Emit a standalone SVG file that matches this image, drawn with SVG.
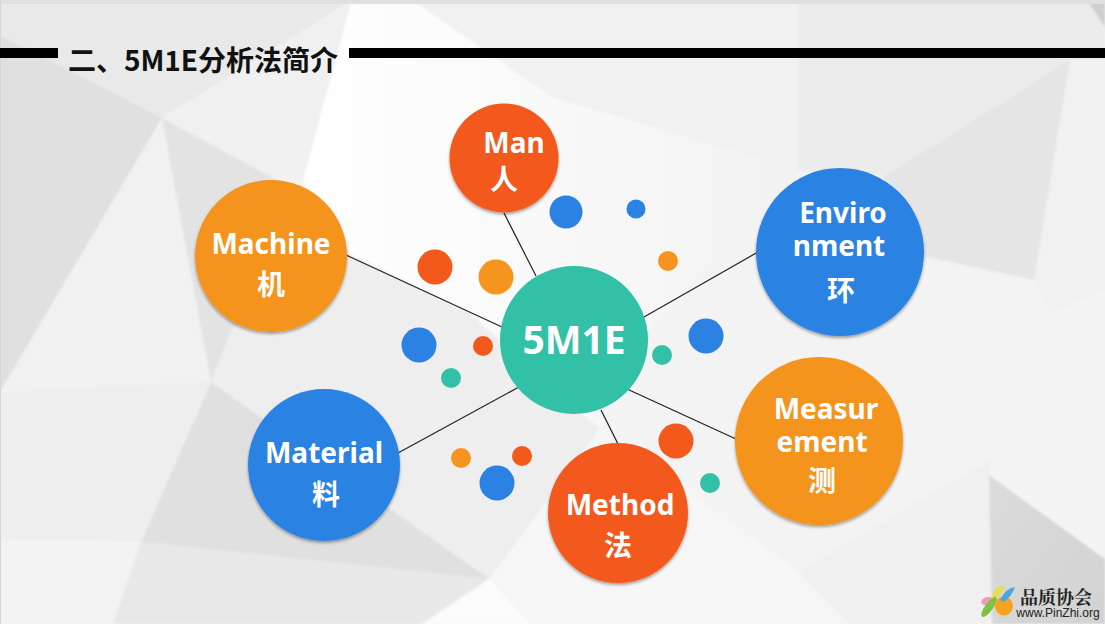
<svg xmlns="http://www.w3.org/2000/svg" width="1105" height="624" viewBox="0 0 1105 624">
<defs>
<style>
text{font-family:"Noto Sans","Noto Sans CJK SC",sans-serif;font-weight:700;fill:#fff;text-anchor:middle}
.l{font-size:28px}
.z{font-size:28px;font-family:"Noto Sans CJK SC",sans-serif}
.c{stroke:#222;stroke-width:1.2;fill:none}
.o{fill:#f5941f}.r{fill:#f3591b}.b{fill:#2c82e2}.g{fill:#32c0a6}
.n{filter:url(#sh)}
</style>
<filter id="sh" x="-10%" y="-10%" width="120%" height="125%"><feDropShadow dx="0" dy="2" stdDeviation="1.500" flood-color="#000" flood-opacity=".35"/></filter>
<filter id="soft"><feGaussianBlur stdDeviation="1"/></filter>
<linearGradient id="dk" x1="0" y1="0" x2="1" y2="1"><stop offset="0" stop-color="#dcdcdc"/><stop offset="1" stop-color="#d2d2d2"/></linearGradient>
<linearGradient id="wh" x1="0" y1="0" x2="1" y2="0"><stop offset="0" stop-color="#fff"/><stop offset="1" stop-color="#f2f2f2"/></linearGradient>
</defs>
<g id="background">
<rect width="1105" height="624" fill="#f4f4f4"/>
<g filter="url(#soft)">
<polygon points="0,0 352,0 162,118 0,35" fill="#e9e9e9"/>
<polygon points="352,0 303,180 271,177 162,118" fill="#f0f0f0"/>
<polygon points="352,0 412,0 552,97 798,170 798,0" fill="#f1f1f1" />
<polygon points="798,0 1105,0 1105,60 1070,60 883,177 798,170" fill="#ebebeb"/>
<polygon points="1070,60 1105,60 1105,290 1052,312 1034,280" fill="#f1f1f1"/>
<polygon points="883,177 1070,60 1034,280 925,257" fill="#e5e5e5"/>
<polygon points="798,170 883,177 925,257 1034,280 1052,312 992,459 798,572 640,440 640,300" fill="#f3f3f3"/>
<polygon points="352,0 412,0 552,97 798,170 640,340 600,429 468,312 348,253 303,180" fill="url(#wh)"/>
<polygon points="0,35 162,118 0,392" fill="#e0e0e0"/>
<polygon points="162,118 0,392 211,382" fill="#f1f1f1"/>
<polygon points="162,118 271,177 348,253 232,329 211,382" fill="#e3e3e3"/>
<polygon points="232,329 211,382 489,579 600,429 468,312 348,253" fill="#eeeeee"/>
<polygon points="211,382 141,542 489,579" fill="#e0e0e0"/>
<polygon points="0,392 211,382 141,542 0,539" fill="#eeeeee"/>
<polygon points="0,539 141,542 113,624 0,624" fill="#f3f3f3"/>
<polygon points="141,542 489,579 422,624 113,624" fill="#e8e8e8"/>
<polygon points="489,579 422,624 530,624" fill="#fbfbfb"/>
<polygon points="489,579 600,429 798,572 850,624 530,624" fill="#f6f6f6"/>
<polygon points="798,572 992,459 992,624 850,624" fill="#f0f0f0"/>
<polygon points="1052,312 1105,290 1105,559 989,475 992,459" fill="#f4f4f4"/>
<polygon points="989,475 1105,559 1105,624 992,624" fill="url(#dk)"/>
<polygon points="1087,0 1105,0 1105,27" fill="#cfcfcf"/>
</g>
<rect width="1105" height="4" fill="#e0e0e0"/>
<rect width="1" height="624" fill="#d5d5d5"/>
</g>
<g id="title">
<rect x="0" y="48" width="58" height="10" fill="#000"/>
<rect x="349" y="48" width="756" height="10" fill="#000"/>
<text x="203" y="71" style="fill:#111;font-size:28px;font-family:'Noto Sans CJK SC',sans-serif">二、5M1E分析法简介</text>
</g>
<g id="connectors">
<line class="c" x1="504" y1="213" x2="536" y2="276"/>
<line class="c" x1="346" y1="255" x2="502" y2="327"/>
<line class="c" x1="758" y1="252" x2="644" y2="317"/>
<line class="c" x1="398" y1="453" x2="519" y2="387"/>
<line class="c" x1="736" y1="439" x2="627" y2="389"/>
<line class="c" x1="618" y1="444" x2="601" y2="410"/>
</g>
<g id="dots">
<circle class="b" cx="566" cy="212" r="16.500"/>
<circle class="b" cx="636" cy="209" r="9.500"/>
<circle class="o" cx="668" cy="261" r="10"/>
<circle class="r" cx="435" cy="267" r="17.500"/>
<circle class="o" cx="496" cy="277" r="17.500"/>
<circle class="b" cx="419" cy="345" r="17.500"/>
<circle class="r" cx="483" cy="346" r="10"/>
<circle class="g" cx="451" cy="378" r="10"/>
<circle class="b" cx="706" cy="336" r="17.500"/>
<circle class="g" cx="662" cy="355" r="10"/>
<circle class="r" cx="676" cy="441" r="17.500"/>
<circle class="g" cx="710" cy="483" r="10"/>
<circle class="o" cx="461" cy="458" r="10"/>
<circle class="r" cx="522" cy="456" r="10"/>
<circle class="b" cx="497" cy="483" r="17.500"/>
</g>
<g id="node-man">
<circle class="r n" cx="504" cy="158" r="54.500"/>
<text class="l" x="514" y="153">Man</text>
<text class="z" x="504" y="190">人</text>
</g>
<g id="node-machine">
<circle class="o n" cx="271" cy="256" r="76"/>
<text class="l" x="271" y="254">Machine</text>
<text class="z" x="271" y="295">机</text>
</g>
<g id="node-environment">
<circle class="b n" cx="840" cy="252" r="84"/>
<text class="l" x="843" y="223">Enviro</text>
<text class="l" x="839" y="256">nment</text>
<text class="z" x="841" y="301">环</text>
</g>
<g id="node-material">
<circle class="b n" cx="324" cy="465" r="76"/>
<text class="l" x="324" y="463">Material</text>
<text class="z" x="326" y="505">料</text>
</g>
<g id="node-measurement">
<circle class="o n" cx="819" cy="441" r="84"/>
<text class="l" x="826" y="419">Measur</text>
<text class="l" x="822" y="452">ement</text>
<text class="z" x="822" y="491">测</text>
</g>
<g id="node-method">
<circle class="r n" cx="618" cy="513" r="70"/>
<text class="l" x="620" y="515">Method</text>
<text class="z" x="618" y="556">法</text>
</g>
<g id="node-center">
<circle class="g" cx="574" cy="340" r="74"/>
<text x="574" y="354" style="font-size:39px">5M1E</text>
</g>
<g id="logo">
<ellipse cx="987" cy="601" rx="6" ry="4" fill="#ef9cc0" transform="rotate(-20 987 601)"/>
<ellipse cx="998" cy="592" rx="8" ry="3.500" fill="#e8dc50" transform="rotate(-50 998 592)"/>
<ellipse cx="989" cy="607" rx="12" ry="4" fill="#7fc241" transform="rotate(-55 989 607)"/>
<ellipse cx="1004" cy="606" rx="9" ry="9.500" fill="#f6a21e"/>
<path d="M1000 600 Q1006 588 1015 587 Q1012 596 1004 602Z" fill="#4aa8dc"/>
<text x="1056" y="604" style="fill:#222;font-size:18px;font-family:'Noto Serif CJK SC','Noto Sans CJK SC',serif">品质协会</text>
<text x="1058" y="617" style="fill:#222;font-size:12px;font-weight:400;font-family:'Liberation Sans',sans-serif">www.PinZhi.org</text>
</g>
</svg>
